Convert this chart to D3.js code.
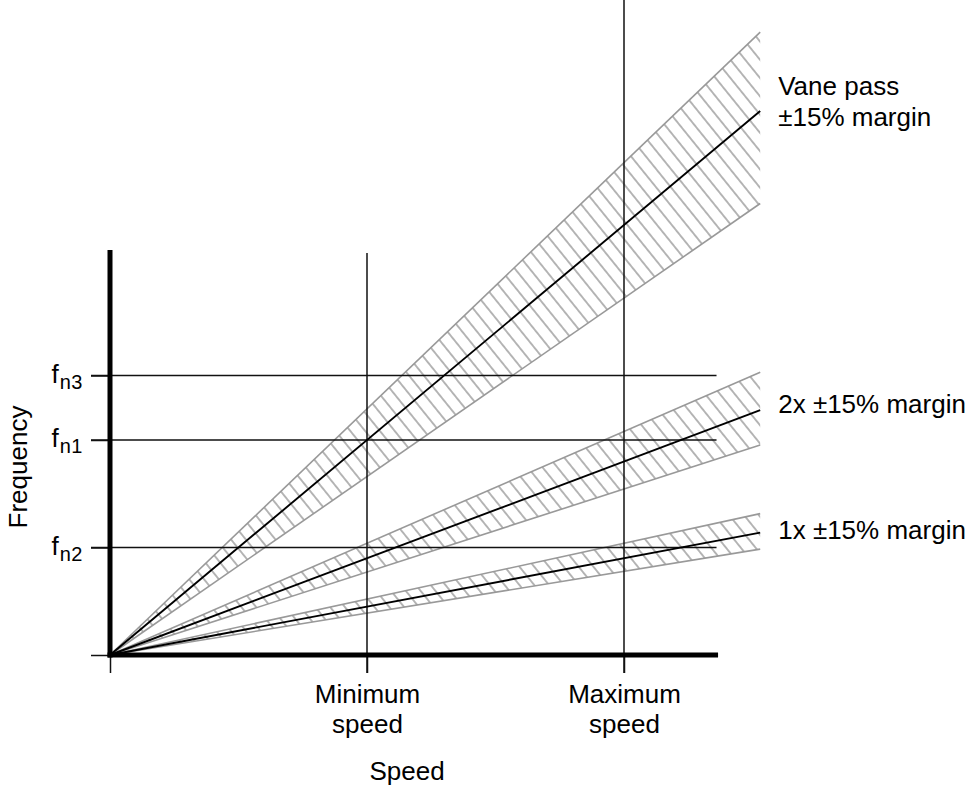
<!DOCTYPE html>
<html>
<head>
<meta charset="utf-8">
<script src="https://cdn.jsdelivr.net/npm/d3@7"></script>
<style>
  html, body { margin: 0; padding: 0; background: #fff; }
  svg { display: block; }
  text { font-family: "Liberation Sans", Arial, Helvetica, sans-serif; fill: #000; }
</style>
</head>
<body>
<svg id="chart" width="980" height="803"></svg>
<script>
// ---- data ----
const speedTicks = [0, 50, 100];
const speedTickLabels = [[], ["Minimum", "speed"], ["Maximum", "speed"]];
const freqTicks = [0, 50, 100, 130];
const freqTickSubs = ["", "n2", "n1", "n3"];
const seriesNames = ["1x", "2x", "Vane pass"];
const seriesLabels = [["1x ±15% margin"], ["2x ±15% margin"], ["Vane pass", "±15% margin"]];
const freqPerSpeed = [0.45, 0.9, 2.0];
const upperFactor = [1.155, 1.155, 1.145];
const lowerFactor = [0.865, 0.858, 0.83];
const speedEnd = 126.5;      // end of the bands
const speedAxisEnd = 118.3;  // end of the x axis
const freqAxisTop = 188.4;   // top of the y axis
const minSpeedGridTop = 187;
const maxSpeedGridTop = 305;
const xTitle = "Speed";
const yTitle = "Frequency";

// ---- scales ----
const svg = d3.select("#chart");
const x = d3.scaleLinear().domain([0, 100]).range([110, 624]);
const y = d3.scaleLinear().domain([0, 100]).range([655, 440]);

// ---- hatch pattern ----
const defs = svg.append("defs");
const sp = 11.5;
const pat = defs.append("pattern")
  .attr("id", "hatch")
  .attr("patternUnits", "userSpaceOnUse")
  .attr("width", sp).attr("height", 20)
  .attr("patternTransform", `translate(${x(0)},${y(0)}) rotate(-39)`);
pat.append("line")
  .attr("x1", sp / 2).attr("x2", sp / 2).attr("y1", -1).attr("y2", 21)
  .attr("stroke", "#8f8f8f").attr("stroke-width", 1.3);

// ---- bands ----
const gBands = svg.append("g");
const bands = seriesNames.map((n, i) => ({
  name: n, k: freqPerSpeed[i], up: freqPerSpeed[i] * upperFactor[i], lo: freqPerSpeed[i] * lowerFactor[i]
}));
gBands.selectAll("path.band").data(bands).join("path")
  .attr("class", "band")
  .attr("d", d => d3.line()([
    [x(0), y(0)], [x(speedEnd), y(d.up * speedEnd)], [x(speedEnd), y(d.lo * speedEnd)]
  ]) + "Z")
  .attr("fill", "url(#hatch)");
const edge = (k) => d3.line()([[x(0), y(0)], [x(speedEnd), y(k * speedEnd)]]);
gBands.selectAll("path.up").data(bands).join("path")
  .attr("d", d => edge(d.up)).attr("stroke", "#999").attr("stroke-width", 1.6).attr("fill", "none");
gBands.selectAll("path.lo").data(bands).join("path")
  .attr("d", d => edge(d.lo)).attr("stroke", "#999").attr("stroke-width", 1.6).attr("fill", "none");

// ---- grid lines ----
const gGrid = svg.append("g");
gGrid.selectAll("line.hg").data(freqTicks.filter(v => v > 0)).join("line")
  .attr("x1", x(0) - 19).attr("x2", x(118))
  .attr("y1", d => y(d)).attr("y2", d => y(d))
  .attr("stroke", "#111").attr("stroke-width", 1.5);
const vTops = [null, minSpeedGridTop, maxSpeedGridTop];
gGrid.selectAll("line.vg").data(speedTicks.filter(v => v > 0)).join("line")
  .attr("x1", d => x(d)).attr("x2", d => x(d))
  .attr("y1", y(0) + 18).attr("y2", d => y(vTops[speedTicks.indexOf(d)]))
  .attr("stroke", "#111").attr("stroke-width", 1.5);

// ---- center lines ----
svg.append("g").selectAll("path").data(bands).join("path")
  .attr("d", d => edge(d.k)).attr("stroke", "#000").attr("stroke-width", 1.9).attr("fill", "none");

// ---- axes ----
const yAxis = d3.axisLeft(y).tickValues(freqTicks).tickSize(19).tickFormat("");
const gy = svg.append("g").attr("transform", `translate(${x(0)},0)`).call(yAxis);
gy.select(".domain").remove();
gy.selectAll(".tick line").attr("stroke", "#111").attr("stroke-width", 1.5);
gy.selectAll(".tick text").remove();

const gyl = svg.append("g");
freqTicks.forEach((v, i) => {
  if (!freqTickSubs[i]) return;
  const t = gyl.append("text")
    .attr("x", 83).attr("y", y(v) + 7)
    .attr("text-anchor", "end");
  t.append("tspan").style("font-size", "26px").text("f");
  t.append("tspan").style("font-size", "20px").attr("dx", 1).attr("dy", 6).attr("letter-spacing", 0.5).text(freqTickSubs[i]);
});

const xAxis = d3.axisBottom(x).tickValues(speedTicks).tickSize(18).tickFormat("");
const gx = svg.append("g").attr("transform", `translate(0,${y(0)})`).call(xAxis);
gx.select(".domain").remove();
gx.selectAll(".tick line").attr("stroke", "#111").attr("stroke-width", 1.5);
gx.selectAll(".tick").each(function (d) {
  const lines = speedTickLabels[speedTicks.indexOf(d)];
  const t = d3.select(this).select("text").attr("y", null).attr("dy", null)
    .attr("text-anchor", "middle").style("font-size", "26px");
  lines.forEach((s, j) => t.append("tspan").attr("x", 0).attr("y", 48 + j * 30).text(s));
});

// thick axis lines
svg.append("line")
  .attr("x1", x(0)).attr("x2", x(0)).attr("y1", y(freqAxisTop)).attr("y2", y(0) + 2.5)
  .attr("stroke", "#000").attr("stroke-width", 5);
svg.append("line")
  .attr("x1", x(0) - 2.5).attr("x2", x(speedAxisEnd)).attr("y1", y(0)).attr("y2", y(0))
  .attr("stroke", "#000").attr("stroke-width", 5);

// ---- series labels ----
const labelOffsets = [[6], [3], [-16, 15]];
const gl = svg.append("g");
bands.forEach((d, i) => {
  seriesLabels[i].forEach((s, j) => {
    gl.append("text")
      .attr("x", x(speedEnd) + 18)
      .attr("y", y(d.k * speedEnd) + labelOffsets[i][j])
      .style("font-size", "26px")
      .text(s);
  });
});

// ---- titles ----
svg.append("text").attr("x", (x(0) + x(100)) / 2 + 40).attr("y", 780)
  .attr("text-anchor", "middle").style("font-size", "26px").text(xTitle);
svg.append("text").attr("transform", "translate(27,467) rotate(-90)")
  .attr("text-anchor", "middle").style("font-size", "26px").text(yTitle);
</script>
</body>
</html>
